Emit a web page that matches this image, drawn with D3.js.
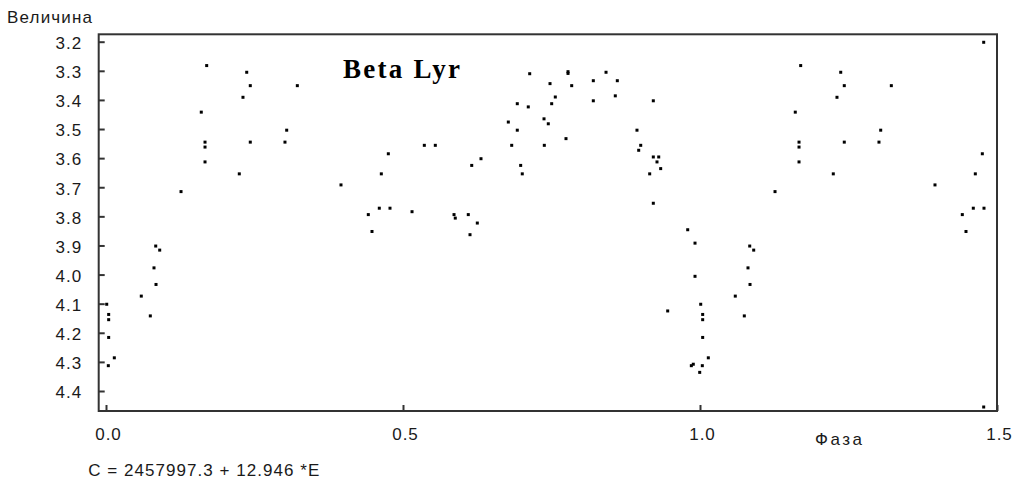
<!DOCTYPE html>
<html>
<head>
<meta charset="utf-8">
<script src="https://cdn.jsdelivr.net/npm/d3@7"></script>
<style>
  html, body { margin: 0; padding: 0; background: #fff; }
  svg { display: block; }
</style>
</head>
<body>
<svg id="chart" width="1024" height="487"></svg>
<script>
// ---- Data (phase-folded observations, phase 0..1) ----
const phase = [
  0.0012, 0.0045, 0.0045, 0.0045, 0.0140, 0.0039, 0.0594, 0.0746, 0.0808, 0.0842,
  0.0837, 0.0904, 0.1263, 0.1604, 0.1695, 0.1667, 0.1667, 0.1667, 0.2244, 0.2306,
  0.2369, 0.2429, 0.2429, 0.3013, 0.3042, 0.3221, 0.3956, 0.4416, 0.4478, 0.4601,
  0.4635, 0.4753, 0.4781,
  0.5152, 0.5359, 0.5544, 0.5859, 0.5880, 0.6099, 0.6128, 0.6157, 0.6251, 0.6313,
  0.6773, 0.6830, 0.6924, 0.6924, 0.6981, 0.7008, 0.7109, 0.7133, 0.7374, 0.7379,
  0.7446, 0.7475, 0.7503, 0.7564, 0.7744, 0.7778, 0.7778, 0.7840, 0.8204, 0.8204,
  0.8418, 0.8574, 0.8608, 0.8939, 0.8968, 0.9002, 0.9153, 0.9214, 0.9214, 0.9276,
  0.9305, 0.9338, 0.9214, 0.9456, 0.9793, 0.9854, 0.9887, 0.9916, 0.9916, 0.9995
];
const mag = [
  4.102, 4.137, 4.155, 4.216, 4.286, 4.313, 4.074, 4.142, 3.977, 4.034,
  3.902, 3.916, 3.715, 3.442, 3.282, 3.545, 3.562, 3.613, 3.654, 3.391,
  3.305, 3.351, 3.545, 3.545, 3.504, 3.351, 3.692, 3.794, 3.852, 3.772,
  3.654, 3.585, 3.772,
  3.784, 3.556, 3.556, 3.794, 3.806, 3.794, 3.863, 3.625, 3.823, 3.602,
  3.476, 3.556, 3.413, 3.504, 3.625, 3.654, 3.424, 3.310, 3.465, 3.556,
  3.482, 3.344, 3.413, 3.390, 3.533, 3.303, 3.309, 3.351, 3.334, 3.403,
  3.305, 3.386, 3.334, 3.504, 3.573, 3.556, 3.654, 3.403, 3.596, 3.613,
  3.596, 3.636, 3.755, 4.125, 3.846, 4.313, 4.308, 3.892, 4.006, 4.336
];
// two extra points plotted near the right edge
const extraPhase = [1.4776, 1.4776];
const extraMag = [3.202, 4.455];

const xTicks = [0, 0.5, 1.0, 1.5];
const yTicks = [3.2, 3.3, 3.4, 3.5, 3.6, 3.7, 3.8, 3.9, 4.0, 4.1, 4.2, 4.3, 4.4];
const titleText = "Beta Lyr";
const yLabel = "Величина";
const xLabel = "Фаза";
const formulaText = "C = 2457997.3 + 12.946 *E";

// ---- Layout ----
const frame = { left: 98.7, top: 34.3, right: 997, bottom: 411 };
const x = d3.scaleLinear().domain([0, 1.5]).range([106, 997]);
const y = d3.scaleLinear().domain([3.2, 4.4]).range([41.7, 391]);

const svg = d3.select("#chart");
const FONT = "'Liberation Sans', Arial, sans-serif";
const TXT = "#1a1a1a";

// points: base + copy shifted by one period (up to 1.5) + extras
const pts = [];
phase.forEach((p, i) => {
  pts.push([p, mag[i]]);
  if (p + 1 <= 1.5) pts.push([p + 1, mag[i]]);
});
extraPhase.forEach((p, i) => pts.push([p, extraMag[i]]));

// y axis (ticks point inward)
const yAxis = d3.axisLeft(y).tickValues(yTicks).tickFormat(d3.format(".1f"))
  .tickSizeInner(-6).tickSizeOuter(0).tickPadding(16.5);
const gy = svg.append("g").attr("transform", `translate(${frame.left},0)`).call(yAxis);
gy.select(".domain").remove();
gy.selectAll(".tick line").attr("stroke", "#333").attr("stroke-width", 2);
gy.selectAll(".tick text").attr("font-family", FONT).attr("font-size", 17)
  .attr("fill", TXT).attr("dy", "0.4em").style("letter-spacing", "1px");

// x axis
const xAxis = d3.axisBottom(x).tickValues(xTicks).tickFormat(d3.format(".1f"))
  .tickSizeInner(-6).tickSizeOuter(0).tickPadding(17.4);
const gx = svg.append("g").attr("transform", `translate(0,${frame.bottom})`).call(xAxis);
gx.select(".domain").remove();
gx.selectAll(".tick line").attr("stroke", "#333").attr("stroke-width", 2);
gx.selectAll(".tick text").attr("font-family", FONT).attr("font-size", 17)
  .attr("fill", TXT).attr("dx", "2px").style("letter-spacing", "1px");

// frame
svg.append("rect")
  .attr("x", frame.left).attr("y", frame.top)
  .attr("width", frame.right - frame.left).attr("height", frame.bottom - frame.top)
  .attr("fill", "none").attr("stroke", "#333").attr("stroke-width", 2);

// points
svg.append("g").selectAll("rect").data(pts).join("rect")
  .attr("x", d => x(d[0]) - 1.5).attr("y", d => y(d[1]) - 1.5)
  .attr("width", 3).attr("height", 3).attr("fill", "#000");

// title
svg.append("text").attr("x", 343).attr("y", 77.7)
  .attr("font-family", "'Liberation Serif', 'Times New Roman', serif")
  .attr("font-weight", "bold").attr("font-size", 27).attr("fill", "#000")
  .attr("textLength", 117).attr("lengthAdjust", "spacing").text(titleText);

// axis titles
svg.append("text").attr("x", 7).attr("y", 22.7)
  .attr("font-family", FONT).attr("font-size", 17).attr("fill", TXT)
  .attr("textLength", 85).attr("lengthAdjust", "spacing").text(yLabel);
svg.append("text").attr("x", 815).attr("y", 444.5)
  .attr("font-family", FONT).attr("font-size", 17).attr("fill", TXT)
  .attr("textLength", 47).attr("lengthAdjust", "spacing").text(xLabel);

// formula
svg.append("text").attr("x", 88.3).attr("y", 475.5)
  .attr("font-family", FONT).attr("font-size", 17).attr("fill", TXT)
  .attr("textLength", 231).attr("lengthAdjust", "spacing").text(formulaText);
</script>
</body>
</html>
